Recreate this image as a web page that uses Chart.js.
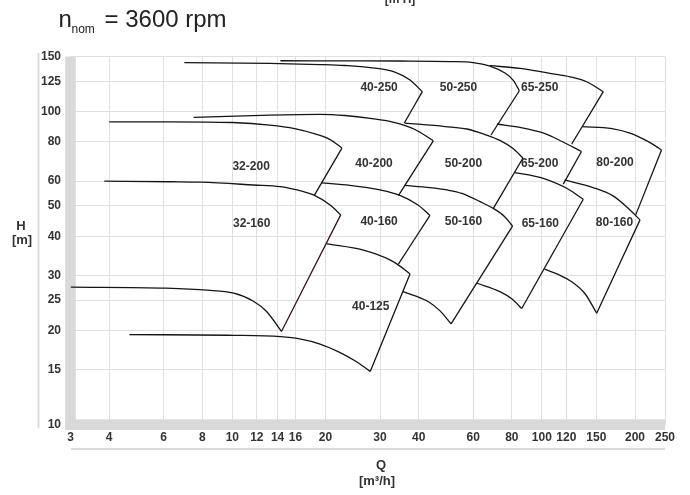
<!DOCTYPE html>
<html>
<head>
<meta charset="utf-8">
<script src="https://cdn.jsdelivr.net/npm/chart.js@4.4.1/dist/chart.umd.min.js"></script>
<style>
  html, body { margin: 0; padding: 0; background: #fff; }
  #wrap { width: 690px; height: 495px; }
</style>
</head>
<body>
<div id="wrap"><canvas id="pumpChart" width="690" height="495"></canvas></div>
<script>
// axis ticks (log-log)
const qTicks = [3, 4, 6, 8, 10, 12, 14, 16, 20, 30, 40, 60, 80, 100, 120, 150, 200, 250];
const hTicks = [10, 15, 20, 25, 30, 40, 50, 60, 80, 100, 125, 150];

// curves, [Q m3/h, H m]
const c40_250 = [[7.0, 143.3], [13.2, 142.7], [19.2, 141.4], [23.1, 140.4], [27.9, 138.3], [33.5, 133.8], [37.5, 126.2], [41.1, 115.8]];
const d40_250 = [[41.1, 115.8], [35.9, 91.8]];
const c50_250 = [[14.3, 145.4], [23.1, 145.3], [34.8, 145.1], [50.5, 144.5], [59.9, 143.5], [68, 139.8], [76, 132.8], [81, 125.7], [84.6, 116.6]];
const d50_250 = [[84.6, 116.6], [68.5, 84.2]];
const c65_250 = [[68, 140.2], [85, 137.5], [106.3, 132.5], [123.3, 129.2], [139.6, 124.6], [158, 115.8]];
const d65_250 = [[158, 115.8], [124.9, 78.8]];

const c32_200 = [[4.0, 92.8], [6.3, 92.8], [10, 92.3], [13.2, 90.6], [15.9, 88.3], [18.6, 84.8], [20.7, 81.4], [22.6, 76.5]];
const d32_200 = [[22.6, 76.5], [18.4, 54.0]];
const c40_200 = [[7.5, 95.9], [13.2, 97.5], [19.2, 98.0], [23.1, 97.2], [27.9, 95.2], [33.5, 92.3], [38.9, 87.7], [44.6, 80.7]];
const d40_200 = [[44.6, 80.7], [34.4, 53.9]];
const c50_200 = [[36.1, 91.9], [48.7, 89.6], [57.3, 88.0], [65.5, 84.5], [73.2, 80.9], [80.7, 76.2], [86.9, 71.1]];
const d50_200 = [[86.9, 71.1], [69.8, 49.2]];
const c65_200 = [[71.6, 91.3], [85, 89.0], [102.4, 85.1], [116.2, 80.3], [134.3, 74.6]];
const d65_200 = [[134.3, 74.6], [117.3, 58.7]];
const c80_200 = [[135, 89.5], [168.5, 88.3], [192.7, 85.4], [215.4, 81.2], [232.1, 77.9], [243.6, 75.4]];
const d80_200 = [[243.6, 75.4], [201.1, 46.8]];

const c32_160 = [[3.86, 60.0], [6.3, 59.7], [7.9, 59.5], [11.7, 58.3], [14.3, 57.6], [17.0, 55.5], [18.3, 54.2], [20.7, 50.3], [22.4, 46.8]];
const d32_160 = [[22.4, 46.8], [14.4, 19.8]];
const c32_160min = [[3, 27.5], [6.1, 27.3], [8.3, 26.9], [10.1, 26.3], [11.7, 24.8], [12.9, 23.0], [14.4, 19.9]];
const c40_160 = [[19.4, 59.2], [24, 58.1], [30, 56.2], [34.8, 54.0], [39.8, 50.3], [43.5, 46.6]];
const d40_160 = [[43.5, 46.6], [34.4, 32.6]];
const c50_160 = [[36, 58.1], [43.5, 57.2], [49.4, 56.2], [55.2, 54.8], [63.1, 51.6], [70.1, 48.9], [76, 46.1], [80.4, 43.1]];
const d50_160 = [[80.4, 43.1], [50.9, 21.0]];
const c50_160min = [[35.6, 26.6], [43, 24.7], [46.9, 23.1], [50.9, 21.0]];
const c65_160 = [[81.3, 63.9], [91.6, 62.7], [101.1, 61.2], [120.3, 56.9], [136.1, 52.5]];
const d65_160 = [[136.1, 52.5], [86.1, 23.5]];
const c65_160min = [[61.7, 28.3], [73.2, 26.6], [80.1, 25.2], [86.1, 23.5]];
const c80_160 = [[118.4, 60.5], [146.3, 57.2], [169.8, 53.8], [189.8, 49.2], [207.6, 45.1]];
const d80_160 = [[207.6, 45.1], [150.4, 22.7]];
const c80_160min = [[102, 31.4], [114.5, 30.0], [124.9, 28.6], [137.9, 26.2], [150.4, 22.7]];

const c40_125 = [[20.2, 37.8], [26.5, 36.1], [32.3, 33.6], [34.8, 32.1], [37.5, 30.3]];
const d40_125 = [[37.5, 30.3], [27.9, 14.8]];
const c40_125min = [[4.65, 19.4], [10.1, 19.3], [14.3, 19.1], [16.5, 18.8], [19.2, 18.1], [22.3, 17.0], [24.9, 16.0], [27.9, 14.8]];

// pump size labels and where they sit
const labelNames = ['40-250', '50-250', '65-250', '32-200', '40-200', '50-200', '65-200', '80-200',
                    '32-160', '40-160', '50-160', '65-160', '80-160', '40-125'];
const labelQ = [29.8, 53.8, 98.4, 11.5, 28.7, 55.8, 98.4, 172.4, 11.55, 29.8, 55.8, 98.9, 171.7, 28.0];
const labelH = [119.6, 119.6, 119.6, 66.7, 68.4, 68.4, 68.4, 68.9, 43.75, 44.5, 44.5, 44.0, 44.3, 23.8];

const blackCurves = [c40_250, d40_250, c50_250, d50_250, c65_250, d65_250,
  c32_200, d32_200, c40_200, d40_200, c50_200, d50_200, c65_200, d65_200, c80_200, d80_200,
  c32_160, c32_160min, c40_160, d40_160, c50_160, d50_160, c50_160min,
  c65_160, d65_160, c65_160min, c80_160, d80_160, c80_160min,
  c40_125, d40_125, c40_125min];

const sans = "'Liberation Sans', Arial, Helvetica, sans-serif";

function toDataset(pts, color) {
  return {
    data: pts.map(p => ({ x: p[0], y: p[1] })),
    showLine: true,
    borderColor: color,
    borderWidth: 1.3,
    pointRadius: 0,
    fill: false,
    cubicInterpolationMode: 'monotone'
  };
}

const datasets = blackCurves.map(pts => toDataset(pts, '#151515'));
datasets.push(toDataset(d32_160, '#3a1212'));

// gray frame bars and thin outer lines
const framePlugin = {
  id: 'frame',
  beforeDatasetsDraw(chart) {
    const { ctx, chartArea: a } = chart;
    ctx.save();
    ctx.fillStyle = '#d9d9d9';
    ctx.fillRect(a.left - 5.3, a.top, 10.6, a.bottom + 5.3 - a.top);
    ctx.fillRect(a.left - 5.3, a.bottom - 5.3, a.right - a.left + 5.3, 10.6);
    ctx.strokeStyle = '#dadada';
    ctx.lineWidth = 1.8;
    ctx.beginPath();
    ctx.moveTo(a.left - 32, a.top - 3.5);
    ctx.lineTo(a.left - 32, a.bottom + 3.5);
    ctx.moveTo(a.left + 0.5, a.bottom + 24.3);
    ctx.lineTo(a.right, a.bottom + 24.3);
    ctx.stroke();
    ctx.restore();
  }
};

// title, axis titles, pump size labels
const textPlugin = {
  id: 'texts',
  afterDraw(chart) {
    const { ctx, scales: { x, y } } = chart;
    ctx.save();
    ctx.fillStyle = '#222';
    ctx.textBaseline = 'alphabetic';
    ctx.textAlign = 'left';
    ctx.font = '24px ' + sans;
    ctx.fillText('n', 58.5, 26.7);
    ctx.fillText('= 3600 rpm', 104.5, 26.7);
    ctx.font = '12px ' + sans;
    ctx.fillText('nom', 71.5, 33.3);

    ctx.fillStyle = '#333';
    ctx.textAlign = 'center';
    ctx.font = 'bold 12px ' + sans;
    ctx.fillText('[m H]', 400, 2.5);

    ctx.textBaseline = 'middle';
    ctx.font = 'bold 13px ' + sans;
    ctx.fillText('H', 21, 226);
    ctx.fillText('[m]', 22, 240);
    ctx.fillText('Q', 381, 465);
    ctx.fillText('[m\u00b3/h]', 377, 481);

    ctx.font = 'bold 12px ' + sans;
    labelNames.forEach((name, i) => {
      ctx.fillText(name, x.getPixelForValue(labelQ[i]), y.getPixelForValue(labelH[i]));
    });
    ctx.restore();
  }
};

new Chart(document.getElementById('pumpChart'), {
  type: 'scatter',
  data: { datasets: datasets },
  options: {
    responsive: false,
    animation: false,
    events: [],
    layout: { padding: { top: 56.5, right: 25, left: 0, bottom: 0 } },
    plugins: { legend: { display: false }, tooltip: { enabled: false } },
    scales: {
      x: {
        type: 'logarithmic',
        min: 3,
        max: 250,
        afterFit(scale) { scale.height = 70.3; },
        afterBuildTicks(scale) { scale.ticks = qTicks.map(v => ({ value: v })); },
        grid: { color: '#e0e0e0', lineWidth: 1, drawTicks: false },
        border: { display: false },
        ticks: {
          autoSkip: false, maxRotation: 0, minRotation: 0, padding: 6,
          color: '#333',
          font: { family: sans, size: 12, weight: 'bold' },
          callback: v => String(v)
        }
      },
      y: {
        type: 'logarithmic',
        min: 10,
        max: 150,
        afterFit(scale) { scale.width = 70.5; },
        afterBuildTicks(scale) { scale.ticks = hTicks.map(v => ({ value: v })); },
        grid: { color: '#e0e0e0', lineWidth: 1, drawTicks: false },
        border: { display: false },
        ticks: {
          autoSkip: false, padding: 9.5,
          color: '#333',
          font: { family: sans, size: 12, weight: 'bold' },
          callback: v => String(v)
        }
      }
    }
  },
  plugins: [framePlugin, textPlugin]
});
</script>
</body>
</html>
